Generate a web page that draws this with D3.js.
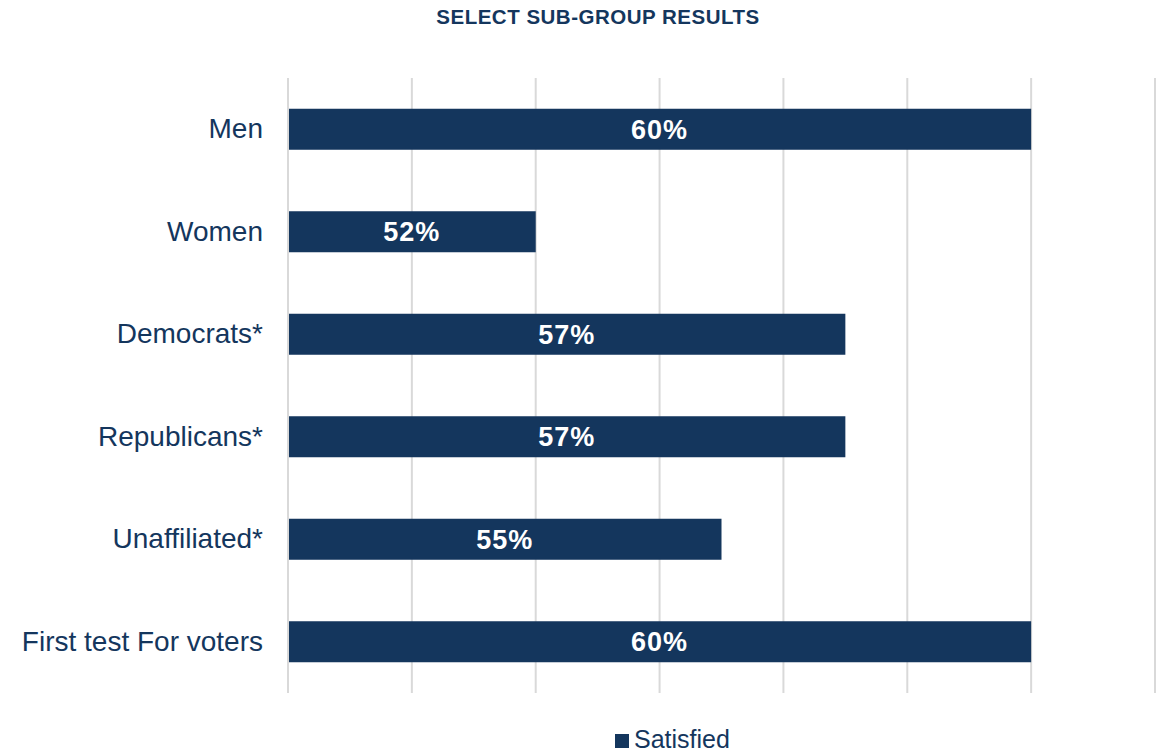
<!DOCTYPE html>
<html>
<head>
<meta charset="utf-8">
<script src="https://cdn.jsdelivr.net/npm/d3@7"></script>
<style>
  body { margin: 0; background: #fff; }
  svg text { font-family: "Liberation Sans", Arial, sans-serif; }
</style>
</head>
<body>
<div class="plot"></div>
<script>
// chart data
var groups = ["Men", "Women", "Democrats*", "Republicans*", "Unaffiliated*", "First test For voters"];
var satisfied = [60, 52, 57, 57, 55, 60];
var xTicks = [48, 50, 52, 54, 56, 58, 60, 62];
var seriesName = "Satisfied";
var title = "SELECT SUB-GROUP RESULTS";

var svgWidth = 1158;
var svgHeight = 754;
var navy = "#14365d";

var margin = { top: 78, right: 3, bottom: 61, left: 288 };
var width = svgWidth - margin.left - margin.right;
var height = svgHeight - margin.top - margin.bottom;

var svg = d3.select(".plot")
    .append("svg")
    .attr("width", svgWidth)
    .attr("height", svgHeight);

svg.append("text")
    .attr("x", 598)
    .attr("y", 24)
    .attr("text-anchor", "middle")
    .attr("font-size", "20.5px")
    .attr("font-weight", "bold")
    .attr("letter-spacing", "0.5px")
    .attr("fill", navy)
    .text(title);

var chartGroup = svg.append("g")
    .attr("transform", `translate(${margin.left}, ${margin.top})`);

var xScale = d3.scaleLinear()
    .domain([48, 62])
    .range([0, 867]);

var yScale = d3.scaleBand()
    .domain(groups)
    .range([0, height])
    .paddingInner(0.6)
    .paddingOuter(0.3);

// gridlines
chartGroup.selectAll(".grid")
    .data(xTicks)
    .enter()
    .append("line")
    .attr("x1", d => xScale(d))
    .attr("x2", d => xScale(d))
    .attr("y1", 0)
    .attr("y2", height)
    .attr("stroke", "#d9d9d9")
    .attr("stroke-width", 2);

// category labels
var yAxis = d3.axisLeft(yScale).tickSize(0).tickPadding(25);
var yG = chartGroup.append("g").call(yAxis);
yG.select(".domain").remove();
yG.selectAll("text")
    .attr("font-size", "28px")
    .attr("fill", navy)
    .style("font-family", "'Liberation Sans', Arial, sans-serif");

// bars
chartGroup.selectAll(".bar")
    .data(groups)
    .enter()
    .append("rect")
    .attr("x", xScale(48) + 1)
    .attr("y", d => yScale(d))
    .attr("width", (d, i) => xScale(satisfied[i]) - xScale(48) - 1)
    .attr("height", yScale.bandwidth())
    .attr("fill", navy);

// value labels
chartGroup.selectAll(".val")
    .data(groups)
    .enter()
    .append("text")
    .attr("x", (d, i) => (xScale(48) + xScale(satisfied[i])) / 2)
    .attr("y", d => yScale(d) + yScale.bandwidth() / 2)
    .attr("dy", "0.35em")
    .attr("text-anchor", "middle")
    .attr("font-size", "27px")
    .attr("font-weight", "bold")
    .attr("letter-spacing", "1px")
    .attr("fill", "#fff")
    .text((d, i) => satisfied[i] + "%");

// legend
var legend = svg.append("g").attr("transform", "translate(615, 734)");
legend.append("rect")
    .attr("width", 14)
    .attr("height", 14)
    .attr("fill", navy);
legend.append("text")
    .attr("x", 19)
    .attr("y", 14)
    .attr("font-size", "25px")
    .attr("fill", navy)
    .text(seriesName);
</script>
</body>
</html>
